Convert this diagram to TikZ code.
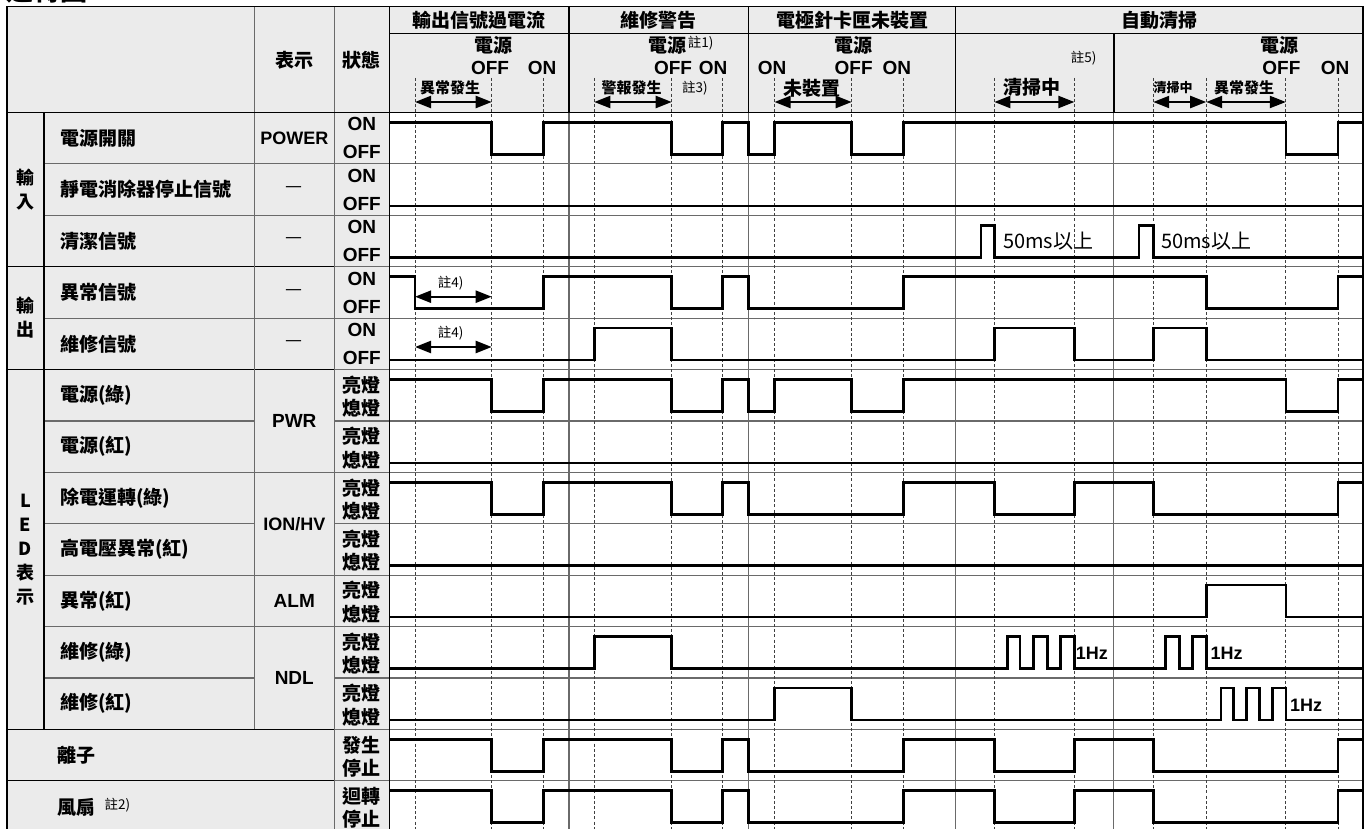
\documentclass[tikz,border=0pt]{standalone}
\usepackage{fontspec}
\setmainfont{Liberation Sans}
\newfontfamily\cjk{Noto Sans CJK TC}
\usetikzlibrary{arrows.meta,positioning}
\definecolor{cellbg}{HTML}{EBEBEB}
\definecolor{rule}{HTML}{6A6A6A}
\tikzset{
  % Linjer: ramme, raekke-/kolonnelinjer, tidsmarkeringer, signaler
  outer/.style={draw=black, line width=1.4pt},
  rowline/.style={draw=rule, line width=1.2pt},
  tline/.style={draw=black!75, line width=.9pt, dash pattern=on 3pt off 2.2pt},
  sig/.style={draw=black, line width=2.6pt},
  span/.style={{Triangle[length=16pt,width=12pt]}-{Triangle[length=16pt,width=12pt]},
    line width=2.2pt},
  % Tekst
  hd/.style={font=\cjk\bfseries\fontsize{19}{23}\selectfont, inner sep=0pt},
  signame/.style={font=\cjk\bfseries\fontsize{19}{23}\selectfont, inner sep=0pt,
    anchor=west},
  grp/.style={font=\cjk\bfseries\fontsize{18}{24}\selectfont, inner sep=0pt,
    align=center},
  stlat/.style={font=\bfseries\fontsize{19}{23}\selectfont, inner sep=0pt},
  stcjk/.style={font=\cjk\bfseries\fontsize{19}{23.3}\selectfont, inner sep=0pt,
    align=center},
  nil/.style={font=\cjk\fontsize{19}{23}\selectfont, inner sep=0pt},
  ann/.style={font=\cjk\bfseries\fontsize{15}{18}\selectfont, inner sep=0pt},
  note/.style={font=\cjk\fontsize{13.5}{15}\selectfont, inner sep=0pt},
  ms/.style={font=\cjk\fontsize{20}{23}\selectfont, inner sep=0pt, anchor=west},
  hz/.style={font=\bfseries\fontsize{18}{21}\selectfont, inner sep=0pt, anchor=west},
}
% Et signal i raekke #1 (lokalt: 10 = hoej, 42 = lav)
\newcommand{\wave}[2]{%
  \begin{scope}[yshift={-112.5pt-51.4pt*(#1-1)}]
    \draw[sig] #2;
  \end{scope}}
% Sektionstitel i oeverste headerlinje
\newcommand{\hdr}[3]{\node[hd] (#1) at (#2,20) {#3};}

\begin{document}
\begin{tikzpicture}[x=1pt,y=-1pt]
\useasboundingbox (0,0) rectangle (1365,829);

% ----- baggrund -----
\fill[cellbg] (7,6.7) rectangle (1363,112.5);
\fill[cellbg] (7,112.5) rectangle (389.3,832);

% ----- titel (skaaret af i toppen) -----
\node[anchor=base west, inner sep=0pt,
      font=\cjk\bfseries\fontsize{27}{30}\selectfont] (title) at (6,1) {運轉圖};

% ----- raekkelinjer -----
\foreach \r in {1,...,13}
  \draw[rowline] (334.3,{112.5+51.4*\r}) -- (1363,{112.5+51.4*\r});
\foreach \r in {1,2,4,6,7,8,9,10,11}
  \draw[rowline] (44,{112.5+51.4*\r}) -- (254.3,{112.5+51.4*\r});
\foreach \r in {1,2,4,7,9,10}
  \draw[rowline] (254.3,{112.5+51.4*\r}) -- (334.3,{112.5+51.4*\r});
\foreach \r in {3,5,12,13}
  \draw[outer] (7,{112.5+51.4*\r}) -- (334.3,{112.5+51.4*\r});

% ----- kolonnelinjer -----
\draw[rowline] (254.3,6.7) -- (254.3,729.3);
\draw[rowline] (334.3,6.7) -- (334.3,832);
\draw[outer] (44,112.5) -- (44,729.3);
\foreach \x in {569,748.7,955.4} {
  \draw[outer] (\x,6.7) -- (\x,112.5);
  \draw[rowline] (\x,112.5) -- (\x,832);
}
\draw[outer] (1113.8,33.3) -- (1113.8,112.5);
\draw[rowline] (1113.8,112.5) -- (1113.8,832);

% ----- tidsmarkeringer -----
\foreach \x/\n in {415/a1,491.7/a2,543.3/a3,594.3/b1,671.7/b2,722.7/b3,
    774.5/c1,851.7/c2,903.6/c3,994.4/d1,1074.4/d2,
    1153.2/e1,1206.2/e2,1285.8/e3,1338/e4} {
  \coordinate (\n) at (\x,78);
  \draw[tline] (\n) -- (\n |- 0,832);
}

% ----- ramme -----
\draw[outer] (389.3,33.3) -- (1363,33.3);
\draw[outer] (7,112.5) -- (1363,112.5);
\draw[outer] (389.3,6.7) -- (389.3,832);
\draw[outer] (7,832) |- (1363,6.7) -- (1363,832);

% ----- signaler -----
\wave{1}{(389.3,10) -| (491.7,42) -| (543.3,10) -| (671.7,42) -| (722.7,10)
  -| (748.7,42) -| (774.5,10) -| (851.7,42) -| (903.6,10) -| (1285.8,42)
  -| (1338,10) -- (1363,10)}
\wave{2}{(389.3,42) -- (1363,42)}
\wave{3}{(389.3,42) -| (981,10) -| (994.4,42) -| (1139,10) -| (1153.2,42)
  -- (1363,42)}
\wave{4}{(389.3,10) -| (415,42) -| (543.3,10) -| (671.7,42) -| (722.7,10)
  -| (748.7,42) -| (903.6,10) -| (1206.2,42) -| (1338,10) -- (1363,10)}
\wave{5}{(389.3,42) -| (594.3,10) -| (671.7,42) -| (994.4,10) -| (1074.4,42)
  -| (1153.2,10) -| (1206.2,42) -- (1363,42)}
\wave{6}{(389.3,10) -| (491.7,42) -| (543.3,10) -| (671.7,42) -| (722.7,10)
  -| (748.7,42) -| (774.5,10) -| (851.7,42) -| (903.6,10) -| (1285.8,42)
  -| (1338,10) -- (1363,10)}
\wave{7}{(389.3,42) -- (1363,42)}
\foreach \r in {8,13,14} {
  \wave{\r}{(389.3,10) -| (491.7,42) -| (543.3,10) -| (671.7,42) -| (722.7,10)
    -| (748.7,42) -| (903.6,10) -| (994.4,42) -| (1074.4,10) -| (1153.2,42)
    -| (1338,10) -- (1363,10)}
}
\wave{9}{(389.3,42) -- (1363,42)}
\wave{10}{(389.3,42) -| (1206.2,10) -| (1285.8,42) -- (1363,42)}
\wave{11}{(389.3,42) -| (594.3,10) -| (671.7,42) -| (1007.3,10) -| (1020.1,42)
  -| (1033.4,10) -| (1047.5,42) -| (1060.3,10) -| (1074.4,42) -| (1165.2,10)
  -| (1179.3,42) -| (1192.6,10) -| (1206.2,42) -- (1363,42)}
\wave{12}{(389.3,42) -| (774.5,10) -| (851.7,42) -| (1221.1,10) -| (1233.6,42)
  -| (1246.4,10) -| (1259.7,42) -| (1272.5,10) -| (1285.8,42) -- (1363,42)}

% ----- pile -----
\draw[span] (a1 |- 0,102) -- (a2 |- 0,102);
\draw[span] (b1 |- 0,102) -- (b2 |- 0,102);
\draw[span] (c1 |- 0,102) -- (c2 |- 0,102);
\draw[span] (d1 |- 0,102) -- (d2 |- 0,102);
\draw[span] (e1 |- 0,102) -- (e2 |- 0,102);
\draw[span] (e2 |- 0,102) -- (e3 |- 0,102);
\draw[span] (a1 |- 0,296.7) -- (a2 |- 0,296.7);
\draw[span] (a1 |- 0,347) -- (a2 |- 0,347);

% ----- header -----
\node[hd] (hshow) at (294.3,60) {表示};
\node[hd] (hstate) at (361.8,60) {狀態};
\hdr{s1}{479.2}{輸出信號過電流}
\hdr{s2}{658.9}{維修警告}
\hdr{s3}{852}{電極針卡匣未裝置}
\hdr{s4}{1159.2}{自動清掃}

\node[hd] (p1) at (493,45.5) {電源};
\node[stlat] (p1off) at (490,68) {OFF};
\node[stlat] (p1on) at (542,68) {ON};
\node[ann] (p1a) at (450,88) {異常發生};

\node[hd] (p2) at (667.5,45.5) {電源};
\node[note, right=1pt of p2.north east, anchor=north west] (n1) {註1)};
\node[stlat] (p2off) at (673,68) {OFF};
\node[stlat] (p2on) at (713,68) {ON};
\node[ann] (p2a) at (631.7,88) {警報發生};
\node[note] (n3) at (695,88) {註3)};

\node[hd] (p3) at (853.6,45.5) {電源};
\node[stlat] (p3on) at (772,68) {ON};
\node[stlat] (p3off) at (853.6,68) {OFF};
\node[stlat] (p3on2) at (896.8,68) {ON};
\node[hd] (p3a) at (812,88) {未裝置};

\node[note] (n5) at (1083.6,58) {註5)};
\node[hd] (p4a) at (1032,87) {清掃中};
\node[hd] (p5) at (1279,45.5) {電源};
\node[stlat] (p5off) at (1281.4,68) {OFF};
\node[stlat] (p5on) at (1335,68) {ON};
\node[ann, font=\cjk\bfseries\fontsize{13}{15}\selectfont] (p5a) at (1173,88) {清掃中};
\node[ann] (p5b) at (1244,88) {異常發生};

% ----- grupper og signalnavne -----
\node[grp] (gin) at (25.5,189.6) {輸\\入};
\node[grp] (gout) at (25.5,318.1) {輸\\出};
\node[grp] (gled) at (25.5,549.9) {L\\E\\D\\表\\示};

\foreach \r/\t in {1/電源開關,2/靜電消除器停止信號,3/清潔信號,4/異常信號,
    5/維修信號,6/電源(綠),7/電源(紅),8/除電運轉(綠),9/高電壓異常(紅),
    10/異常(紅),11/維修(綠),12/維修(紅)}
  \node[signame] (nm\r) at (60,{112.5+51.4*(\r-1)+25.7}) {\t};
\node[signame] (ion) at (57,755) {離子};
\node[signame] (fan) at (57,807) {風扇};
\node[note, right=9pt of fan.north east, anchor=north west] (n2) {註2)};

% ----- visning -----
\node[stlat, font=\bfseries\fontsize{18}{21}\selectfont] (sh1) at (294.3,138.2) {POWER};
\foreach \r in {2,...,5}
  \node[nil] (sh\r) at (294.3,{112.5+51.4*(\r-1)+25.7}) {—};
\node[stlat] (pwr) at (294.3,420.9) {PWR};
\node[stlat, font=\bfseries\fontsize{18}{21}\selectfont] (ionhv) at (294.3,523.7) {ION/HV};
\node[stlat] (alm) at (294.3,600.8) {ALM};
\node[stlat] (ndl) at (294.3,677.9) {NDL};

% ----- tilstande -----
\foreach \r in {1,...,5} {
  \node[stlat] (on\r) at (361.8,{112.5+51.4*(\r-1)+11.8}) {ON};
  \node[stlat] (off\r) at (361.8,{112.5+51.4*(\r-1)+39.8}) {OFF};
}
\foreach \r/\a/\b in {6/亮燈/熄燈,7/亮燈/熄燈,8/亮燈/熄燈,9/亮燈/熄燈,
    10/亮燈/熄燈,11/亮燈/熄燈,12/亮燈/熄燈,13/發生/停止,14/迴轉/停止}
  \node[stcjk] (st\r) at (361.8,{112.5+51.4*(\r-1)+27.2}) {\a\\\b};

% ----- noter i diagrammet -----
\node[note] (n4a) at (450.7,282.7) {註4)};
\node[note] (n4b) at (450.7,333.3) {註4)};
\node[ms] (ms1) at (1003,241.5) {50ms以上};
\node[ms] (ms2) at (1161,241.5) {50ms以上};
\node[hz] (hz1) at (1075.6,653.3) {1Hz};
\node[hz] (hz2) at (1210.3,653.3) {1Hz};
\node[hz] (hz3) at (1289.8,705.5) {1Hz};

\end{tikzpicture}
\end{document}
